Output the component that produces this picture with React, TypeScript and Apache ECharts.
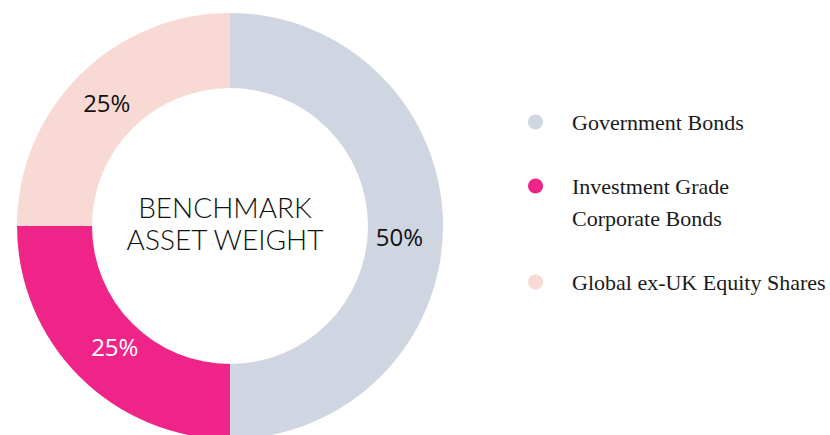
import React, { useEffect, useRef } from "react";
import * as echarts from "echarts";

const categories = ["Government Bonds", "Investment Grade Corporate Bonds", "Global ex-UK Equity Shares"];
const legendLines = [["Government Bonds"], ["Investment Grade", "Corporate Bonds"], ["Global ex-UK Equity Shares"]];
const weights = [50, 25, 25];
const colors = ["#CFD6E1", "#EF2488", "#F9D9D3"];
const labelColors = ["#111111", "#FFFFFF", "#111111"];
const centerTitle = ["BENCHMARK", "ASSET WEIGHT"];

export default function App() {
  const ref = useRef<HTMLDivElement>(null);
  useEffect(() => {
    document.body.style.margin = "0";
    const chart = echarts.init(ref.current!, null, { renderer: "svg" });
    const legendTops = [122, 186, 282];
    const labelOffsets = [[-9, 10], [11, -6], [3, 3]];
    const graphic: any[] = [];
    legendLines.forEach((lines, i) => {
      graphic.push({
        type: "circle",
        shape: { cx: 535.5, cy: legendTops[i], r: 7.5 },
        style: { fill: colors[i] },
      });
      lines.forEach((line, j) => {
        graphic.push({
          type: "text",
          x: 572,
          y: legendTops[i] + j * 32,
          style: {
            text: line,
            fill: "#1a1a1a",
            font: '22px "Liberation Serif", serif',
            verticalAlign: "middle",
            align: "left",
          },
        });
      });
    });
    centerTitle.forEach((t, j) => {
      graphic.push({
        type: "text",
        x: 225,
        y: 207 + j * 32,
        style: {
          text: t,
          fill: "#111111",
          font: '300 28px Lato, sans-serif',
          align: "center",
          verticalAlign: "middle",
        },
      });
    });
    chart.setOption({
      animation: false,
      graphic,
      series: [
        {
          type: "pie",
          center: [230, 226],
          radius: [138, 213],
          startAngle: 90,
          clockwise: true,
          silent: true,
          label: {
            show: true,
            position: "inside",
            formatter: "{c}%",
            fontFamily: '"Open Sans", sans-serif',
            fontSize: 24,
          },
          labelLine: { show: false },
          data: categories.map((name, i) => ({
            name,
            value: weights[i],
            itemStyle: { color: colors[i] },
            label: { color: labelColors[i], offset: labelOffsets[i] },
          })),
        },
      ],
    });
    return () => chart.dispose();
  }, []);
  return <div ref={ref} style={{ width: 830, height: 435 }} />;
}
